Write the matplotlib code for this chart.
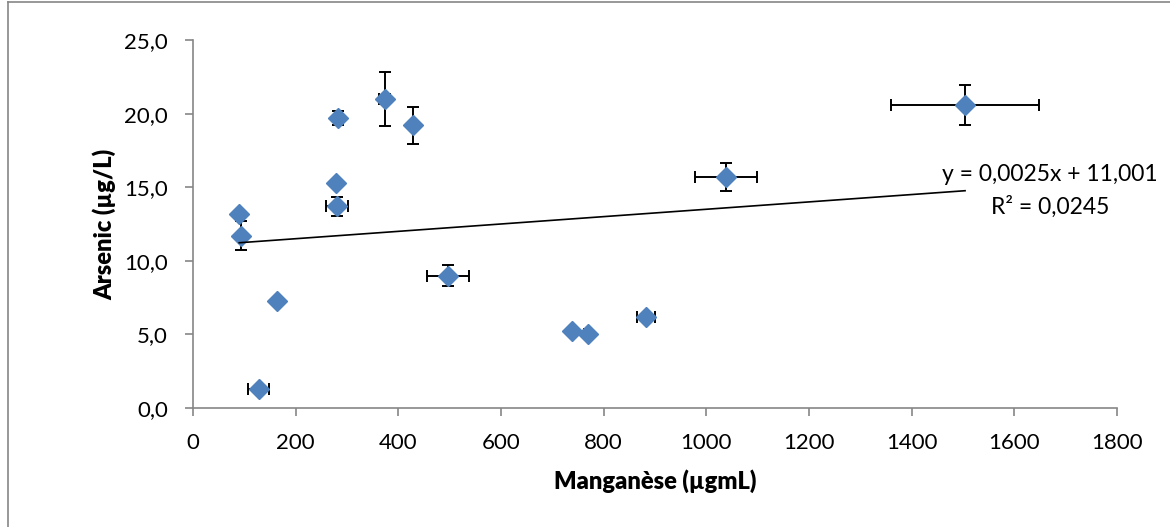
import matplotlib.pyplot as plt
import numpy as np
from matplotlib.ticker import FuncFormatter

plt.rcParams['font.family'] = ['Lato', 'DejaVu Sans']

# Mn (x) and As (y) with their errors
manganese = [90, 93, 164, 128, 282, 278, 280, 373, 429, 496, 738, 769, 882, 1038, 1504]
arsenic = [13.2, 11.7, 7.3, 1.3, 19.7, 15.3, 13.7, 21.0, 19.2, 9.0, 5.2, 5.05, 6.15, 15.7, 20.6]
mn_err = [0, 0, 0, 20, 0, 0, 21, 10, 0, 41, 0, 8, 18, 61, 145]
as_err = [0, 1.0, 0, 0.1, 0.5, 0, 0.65, 1.85, 1.25, 0.72, 0, 0, 0.2, 0.97, 1.36]

slope = 0.0025
intercept = 11.001
r2 = 0.0245

fig = plt.figure(figsize=(11.7, 5.27), dpi=100)
ax = fig.add_axes([0.165, 0.2258, 0.7897, 0.6983])

ax.errorbar(manganese, arsenic, xerr=mn_err, yerr=as_err, fmt='none',
            ecolor='black', elinewidth=1.4, capsize=4.3, capthick=1.4, zorder=2)
ax.plot(manganese, arsenic, 'D', color='#4F81BD', markersize=10, zorder=3)

xs = np.array([min(manganese), max(manganese)])
ax.plot(xs, slope * xs + intercept, color='black', linewidth=1.2, zorder=4)

label = 'y = {}x + {}\nR² = {}'.format(str(slope).replace('.', ','),
                                       str(intercept).replace('.', ','),
                                       str(r2).replace('.', ','))
ax.text(1670, 14.75, label, ha='center', va='center',
        fontsize=16.5, linespacing=1.55, zorder=5, clip_on=False)

ax.set_xlim(0, 1800)
ax.set_ylim(0, 25)
ax.set_xticks(range(0, 1801, 200))
ax.set_yticks(np.arange(0, 25.1, 5))
ax.yaxis.set_major_formatter(FuncFormatter(lambda v, p: f'{v:.1f}'.replace('.', ',')))

for s in ['top', 'right']:
    ax.spines[s].set_visible(False)
for s in ['left', 'bottom']:
    ax.spines[s].set_color('#868686')
    ax.spines[s].set_linewidth(1.2)
ax.tick_params(direction='out', length=6, width=1.2, color='#868686',
               labelsize=16, pad=12)

ax.set_xlabel('Manganèse (µgmL)', fontsize=17, fontweight='heavy', labelpad=12)
ax.set_ylabel('Arsenic (µg/L)', fontsize=17, fontweight='heavy', labelpad=6)

# outer chart border
fig.add_artist(plt.Line2D([8 / 1170, 8 / 1170], [0, 0.997], transform=fig.transFigure,
                          color='#868686', linewidth=1.2))
fig.add_artist(plt.Line2D([8 / 1170, 1], [0.997, 0.997], transform=fig.transFigure,
                          color='#868686', linewidth=1.2))

fig.savefig('out.png', dpi=100)
